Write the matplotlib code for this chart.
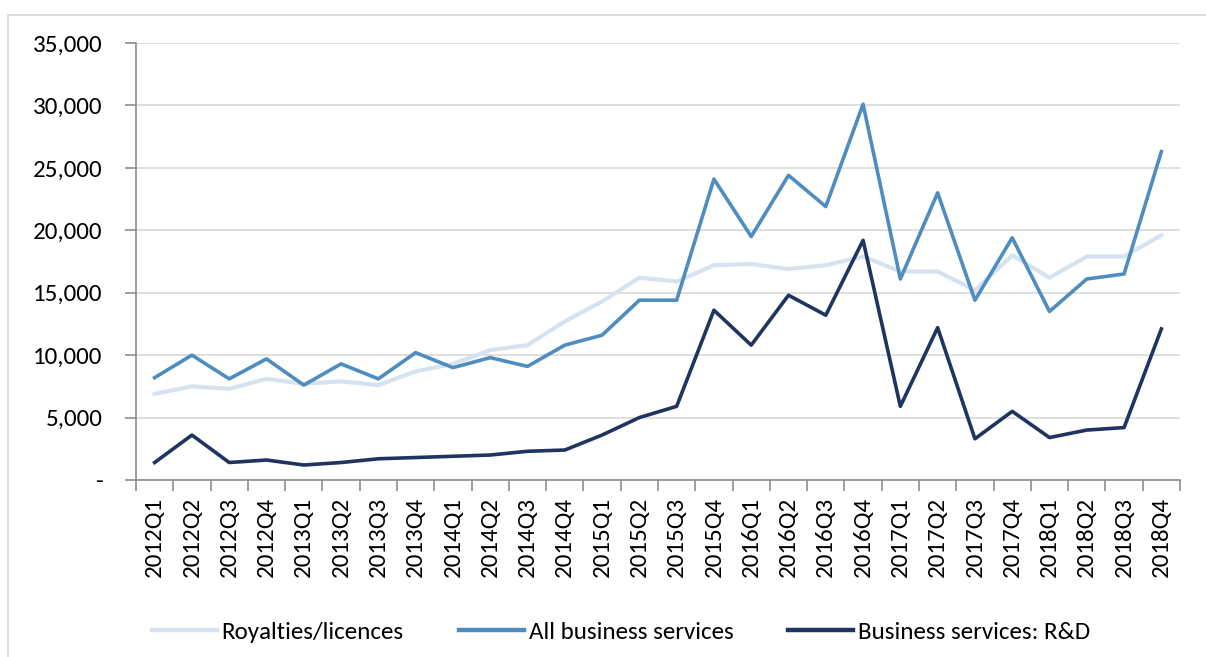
import matplotlib

matplotlib.use("Agg")
import matplotlib.pyplot as plt
from matplotlib.patches import Rectangle
from matplotlib.ticker import FuncFormatter, FixedLocator

LIGHT = "#d5e3f0"
MID = "#4f8cbf"
DARK = "#1f3560"

quarters = [f"{y}Q{q}" for y in range(2012, 2019) for q in range(1, 5)]

royalties = [6900, 7500, 7300, 8100, 7700, 7900, 7600, 8700,
             9300, 10400, 10800, 12700, 14300, 16200, 15900, 17200,
             17300, 16900, 17200, 17900, 16700, 16700, 15200, 18000,
             16200, 17900, 17900, 19600]
all_business = [8200, 10000, 8100, 9700, 7600, 9300, 8100, 10200,
                9000, 9800, 9100, 10800, 11600, 14400, 14400, 24100,
                19500, 24400, 21900, 30100, 16100, 23000, 14400, 19400,
                13500, 16100, 16500, 26300]
rnd = [1400, 3600, 1400, 1600, 1200, 1400, 1700, 1800,
       1900, 2000, 2300, 2400, 3600, 5000, 5900, 13600,
       10800, 14800, 13200, 19200, 5900, 12200, 3300, 5500,
       3400, 4000, 4200, 12100]

plt.rcParams.update({
    "font.family": ["Carlito", "Lato", "DejaVu Sans"],
    "font.size": 18,
})

fig = plt.figure(figsize=(12.06, 6.57), dpi=100)
fig.patches.append(Rectangle((8 / 1206, -0.1), 1.2, 1 - 15 / 657 + 0.1,
                             transform=fig.transFigure, fill=False,
                             edgecolor="#d9d9d9", lw=1.2))
ax = fig.add_axes([136 / 1206, 1 - 480 / 657, (1180 - 136) / 1206,
                   (480 - 43) / 657])

x = list(range(len(quarters)))
ax.plot(x, royalties, color=LIGHT, lw=3.0, label="Royalties/licences")
ax.plot(x, all_business, color=MID, lw=2.6, label="All business services")
ax.plot(x, rnd, color=DARK, lw=2.6, label="Business services: R&D")

ax.set_xlim(-0.5, len(quarters) - 0.5)
ax.set_ylim(0, 35000)
ax.set_yticks(range(0, 35001, 5000))
ax.yaxis.set_major_formatter(
    FuncFormatter(lambda v, _: "-" if v == 0 else f"{v:,.0f}"))
ax.set_xticks(x)
ax.set_xticklabels(quarters, rotation=90)
ax.xaxis.set_minor_locator(FixedLocator([i - 0.5 for i in range(len(quarters) + 1)]))
ax.tick_params(axis="x", which="major", length=0, pad=12)
ax.tick_params(axis="x", which="minor", length=8, width=1.2, color="#8c8c8c")
ax.tick_params(axis="y", length=8, width=1.2, color="#8c8c8c", pad=16)

ax.grid(axis="y", color="#d9d9d9", lw=1.2)
ax.set_axisbelow(True)
for side in ("top", "right"):
    ax.spines[side].set_visible(False)
for side in ("left", "bottom"):
    ax.spines[side].set_color("#8c8c8c")
    ax.spines[side].set_linewidth(1.2)

leg = fig.legend(loc="center", bbox_to_anchor=(0.515, 1 - 632 / 657), ncol=3,
                 frameon=False, handlelength=2.6, handletextpad=0.2,
                 columnspacing=2.2, fontsize=18)
for line in leg.get_lines():
    line.set_linewidth(3.2)

fig.savefig("out.png", dpi=100)
